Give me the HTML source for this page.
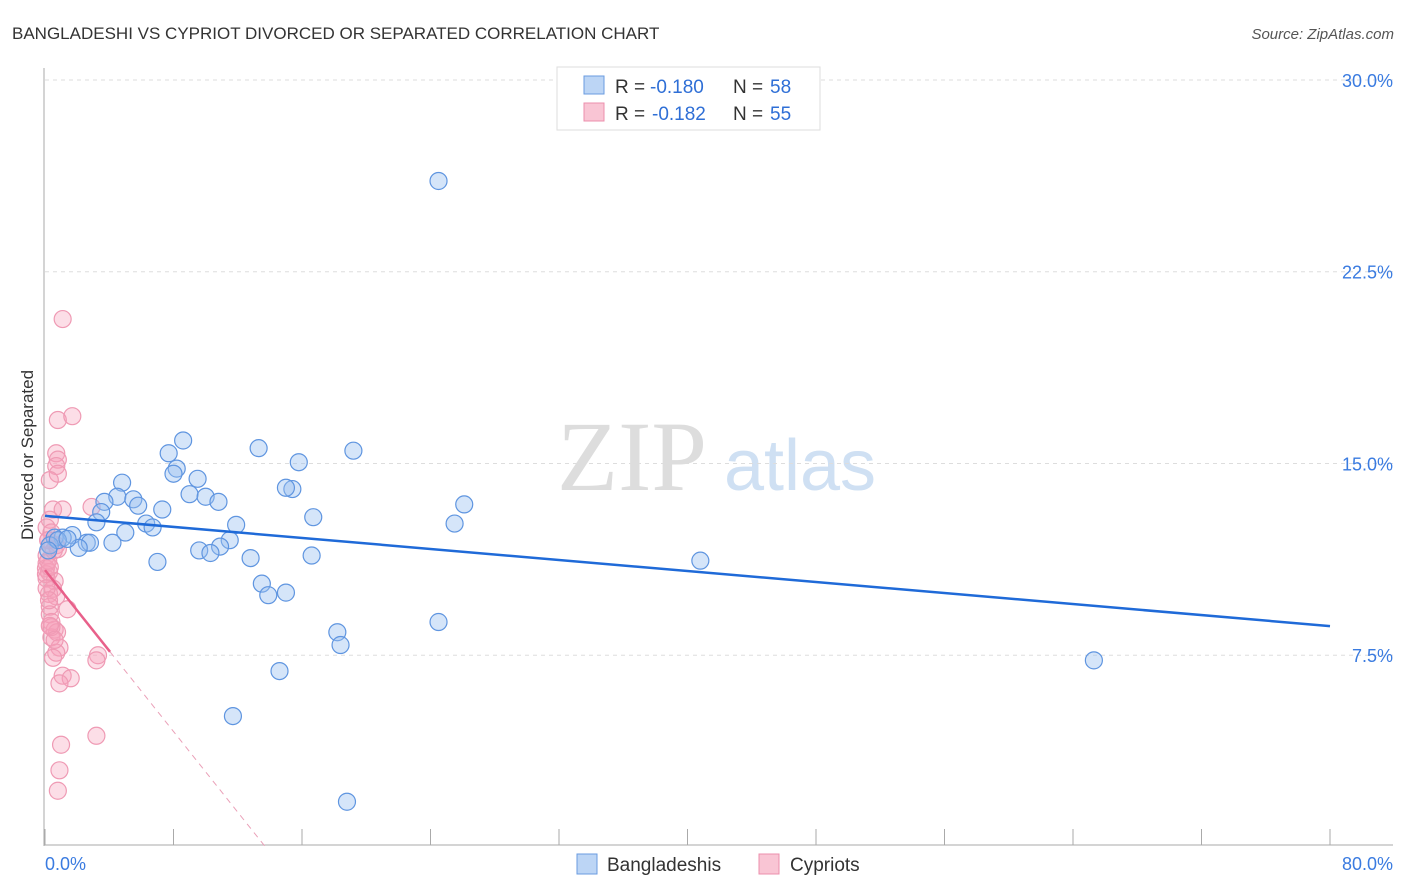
<!DOCTYPE html>
<html><head><meta charset="utf-8"><style>
body{margin:0;background:#fff;font-family:"Liberation Sans",sans-serif;}
svg{display:block}
</style></head><body>
<svg width="1406" height="892" xmlns="http://www.w3.org/2000/svg">
<text x="12" y="39" font-size="17" fill="#333">BANGLADESHI VS CYPRIOT DIVORCED OR SEPARATED CORRELATION CHART</text>
<text x="1394" y="39" font-size="15" fill="#555" text-anchor="end" font-style="italic">Source: ZipAtlas.com</text>
<g>
<text x="632" y="490" font-size="100" fill="#ddd" text-anchor="middle" font-family="Liberation Serif,serif">ZIP</text>
<text x="800" y="490" font-size="72" fill="#cfe0f3" text-anchor="middle">atlas</text>
</g>
<g id="grid"></g>
<g id="axes"></g>
<g id="pts"></g>
<g id="lines"></g>
<text transform="translate(33,455) rotate(-90)" font-size="17" fill="#333" text-anchor="middle">Divorced or Separated</text>
<g>
<rect x="557" y="67" width="263" height="63" fill="#fff" stroke="#ddd"/>
<rect x="584" y="76" width="20" height="18" fill="#bcd5f5" stroke="#6a9be0"/>
<rect x="584" y="103" width="20" height="18" fill="#f9c5d4" stroke="#ec8fac"/>
<text x="615" y="93" font-size="19" fill="#333">R =</text>
<text x="650" y="93" font-size="19" fill="#2f6fd6">-0.180</text>
<text x="733" y="93" font-size="19" fill="#333">N =</text>
<text x="770" y="93" font-size="19" fill="#2f6fd6">58</text>
<text x="615" y="120" font-size="19" fill="#333">R =</text>
<text x="652" y="120" font-size="19" fill="#2f6fd6">-0.182</text>
<text x="733" y="120" font-size="19" fill="#333">N =</text>
<text x="770" y="120" font-size="19" fill="#2f6fd6">55</text>
</g>
<g>
<rect x="577" y="854" width="20" height="20" fill="#bcd5f5" stroke="#6a9be0"/>
<text x="607" y="871" font-size="19" fill="#333">Bangladeshis</text>
<rect x="759" y="854" width="20" height="20" fill="#f9c5d4" stroke="#ec8fac"/>
<text x="790" y="871" font-size="19" fill="#333">Cypriots</text>
</g>
</svg>
<script>
const yTicks=[7.5,15,22.5,30];
const yTickLabels=["7.5%","15.0%","22.5%","30.0%"];
const xTicks=[0,8,16,24,32,40,48,56,64,72,80];
const xEndLabels=["0.0%","80.0%"];
const blueX=[24.5,8.6,13.3,19.2,7.7,15.8,8.2,8.0,9.5,4.8,15.4,15.0,9.0,10.0,4.5,10.8,3.7,5.5,5.8,26.1,7.3,3.5,16.7,3.2,6.3,6.7,11.9,25.5,5.0,1.7,1.1,0.6,11.5,2.6,4.2,2.8,2.1,10.9,9.6,10.3,16.6,12.8,7.0,40.8,13.5,13.9,15.0,24.5,18.2,18.4,65.3,14.6,11.7,18.8,0.3,0.8,0.2,1.4];
const blueY=[26.05,15.9,15.6,15.5,15.4,15.05,14.8,14.6,14.4,14.25,14.0,14.05,13.8,13.7,13.7,13.5,13.5,13.6,13.35,13.4,13.2,13.1,12.9,12.7,12.65,12.5,12.6,12.65,12.3,12.2,12.1,12.1,12.0,11.9,11.9,11.9,11.7,11.75,11.6,11.5,11.4,11.3,11.15,11.2,10.3,9.85,9.95,8.8,8.4,7.9,7.3,6.88,5.12,1.77,11.8,12.0,11.6,12.05];
const pinkX=[1.1,0.8,1.7,0.7,0.8,0.7,0.8,0.3,0.5,1.1,2.9,0.3,0.1,0.4,0.2,0.7,0.1,0.1,0.06,0.25,0.1,0.6,0.5,0.25,0.7,1.4,0.3,0.3,0.4,0.6,0.4,0.75,0.9,0.7,0.5,3.3,3.2,1.1,1.6,0.9,3.2,1.0,0.9,0.8,0.06,0.1,0.25,0.4,0.2,0.3,0.55,0.2,0.8,0.3,0.6];
const pinkY=[20.65,16.7,16.85,15.4,15.15,14.9,14.6,14.35,13.2,13.2,13.3,12.8,12.5,12.3,12.0,11.8,11.4,11.1,10.9,10.75,10.5,10.4,10.1,9.9,9.8,9.3,9.4,9.1,8.8,8.5,8.2,8.4,7.8,7.6,7.4,7.5,7.3,6.7,6.6,6.4,4.35,4.0,3.0,2.2,10.67,10.12,9.65,8.6,11.2,10.95,11.6,12.0,11.65,8.65,8.1];
const blueTrend=[12.95,8.64];
const pinkTrend=[10.83,-0.789];
const pinkSolidEnd=4.05;

const NS="http://www.w3.org/2000/svg";
const X0=45,X1=1330,Y0=847,PY=25.567;
const sx=v=>X0+(X1-X0)*v/80;
const sy=v=>Y0-v*PY;
function mk(t,a,p){const e=document.createElementNS(NS,t);for(const k in a)e.setAttribute(k,a[k]);p.appendChild(e);return e;}
const grid=document.getElementById('grid'),axes=document.getElementById('axes'),pts=document.getElementById('pts'),lines=document.getElementById('lines');
yTicks.forEach((t,i)=>{
 const l=mk('line',{x1:45,x2:1393,y1:sy(t),y2:sy(t),stroke:'#ddd','stroke-dasharray':'4,4'},grid);
 
 
 const tx=mk('text',{x:1393,y:sy(t)+7,'font-size':18,fill:'#3a7be0','text-anchor':'end'},grid);
 tx.textContent=yTickLabels[i];
 
 
});
const ax=mk('line',{x1:44,x2:44,y1:68,y2:846,stroke:'#aaa'},axes);


const bx=mk('line',{x1:44,x2:1393,y1:845,y2:845,stroke:'#aaa'},axes);


xTicks.forEach(t=>{
 const l=mk('line',{x1:sx(t),x2:sx(t),y1:829,y2:845,stroke:'#aaa'},axes);
 
 
});
[[0,'start'],[80,'end']].forEach((d,i)=>{
 const tx=mk('text',{x:i?1393:45,y:870,'font-size':18,fill:'#3a7be0','text-anchor':d[1]},axes);
 tx.textContent=xEndLabels[i];
 
 
});
pinkX.forEach((x,i)=>{
 const c=mk('circle',{cx:sx(x),cy:sy(pinkY[i]),r:8.5,fill:'rgba(246,160,186,0.35)',stroke:'#ef9ab4','stroke-width':1.2},pts);
 
 
});
blueX.forEach((x,i)=>{
 const c=mk('circle',{cx:sx(x),cy:sy(blueY[i]),r:8.5,fill:'rgba(150,190,240,0.4)',stroke:'#5f95e0','stroke-width':1.2},pts);
 
 
});
const bl=mk('line',{x1:sx(0),y1:sy(blueTrend[0]),x2:sx(80),y2:sy(blueTrend[1]),stroke:'#1f6ad8','stroke-width':2.5},lines);


const pf=x=>pinkTrend[0]+pinkTrend[1]*x;
const pl=mk('line',{x1:sx(0),y1:sy(pf(0)),x2:sx(pinkSolidEnd),y2:sy(pf(pinkSolidEnd)),stroke:'#e8608a','stroke-width':2.5},lines);


const xe=pinkTrend[0]/-pinkTrend[1];
const pd=mk('line',{x1:sx(pinkSolidEnd),y1:sy(pf(pinkSolidEnd)),x2:sx(xe),y2:sy(0),stroke:'#eaa0b8','stroke-width':1,'stroke-dasharray':'6,5'},lines);


</script>
</body></html>
